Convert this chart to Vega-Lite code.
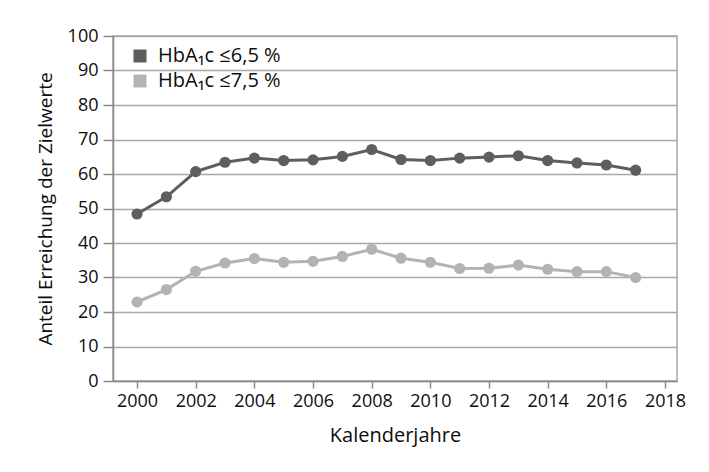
{
  "$schema": "https://vega.github.io/schema/vega-lite/v6.json",
  "width": 564,
  "height": 345,
  "autosize": {"type": "none"},
  "padding": {"left": 113, "top": 36, "right": 32, "bottom": 91},
  "background": "white",
  "config": {
    "font": "Open Sans",
    "view": {"stroke": "#a6a6a6", "strokeWidth": 1.5},
    "axis": {
      "labelFont": "Open Sans",
      "titleFont": "Open Sans",
      "labelFontSize": 18,
      "titleFontSize": 20,
      "titleFontWeight": "normal",
      "labelColor": "#0d0d0d",
      "titleColor": "#0d0d0d",
      "domainColor": "#8a8a8a",
      "domainWidth": 1.5,
      "tickColor": "#8a8a8a",
      "tickWidth": 1.5,
      "gridColor": "#a8a8a8",
      "gridWidth": 1.5
    }
  },
  "data": {
    "values": [
      {"Jahr": 2000, "Zielwert": "HbA₁c ≤6,5 %", "Anteil": 48.4},
      {"Jahr": 2001, "Zielwert": "HbA₁c ≤6,5 %", "Anteil": 53.4},
      {"Jahr": 2002, "Zielwert": "HbA₁c ≤6,5 %", "Anteil": 60.7},
      {"Jahr": 2003, "Zielwert": "HbA₁c ≤6,5 %", "Anteil": 63.4},
      {"Jahr": 2004, "Zielwert": "HbA₁c ≤6,5 %", "Anteil": 64.6},
      {"Jahr": 2005, "Zielwert": "HbA₁c ≤6,5 %", "Anteil": 63.9},
      {"Jahr": 2006, "Zielwert": "HbA₁c ≤6,5 %", "Anteil": 64.1},
      {"Jahr": 2007, "Zielwert": "HbA₁c ≤6,5 %", "Anteil": 65.1},
      {"Jahr": 2008, "Zielwert": "HbA₁c ≤6,5 %", "Anteil": 67.1},
      {"Jahr": 2009, "Zielwert": "HbA₁c ≤6,5 %", "Anteil": 64.2},
      {"Jahr": 2010, "Zielwert": "HbA₁c ≤6,5 %", "Anteil": 63.9},
      {"Jahr": 2011, "Zielwert": "HbA₁c ≤6,5 %", "Anteil": 64.6},
      {"Jahr": 2012, "Zielwert": "HbA₁c ≤6,5 %", "Anteil": 64.9},
      {"Jahr": 2013, "Zielwert": "HbA₁c ≤6,5 %", "Anteil": 65.3},
      {"Jahr": 2014, "Zielwert": "HbA₁c ≤6,5 %", "Anteil": 63.9},
      {"Jahr": 2015, "Zielwert": "HbA₁c ≤6,5 %", "Anteil": 63.2},
      {"Jahr": 2016, "Zielwert": "HbA₁c ≤6,5 %", "Anteil": 62.6},
      {"Jahr": 2017, "Zielwert": "HbA₁c ≤6,5 %", "Anteil": 61.1},
      {"Jahr": 2000, "Zielwert": "HbA₁c ≤7,5 %", "Anteil": 22.9},
      {"Jahr": 2001, "Zielwert": "HbA₁c ≤7,5 %", "Anteil": 26.5},
      {"Jahr": 2002, "Zielwert": "HbA₁c ≤7,5 %", "Anteil": 31.8},
      {"Jahr": 2003, "Zielwert": "HbA₁c ≤7,5 %", "Anteil": 34.2},
      {"Jahr": 2004, "Zielwert": "HbA₁c ≤7,5 %", "Anteil": 35.5},
      {"Jahr": 2005, "Zielwert": "HbA₁c ≤7,5 %", "Anteil": 34.4},
      {"Jahr": 2006, "Zielwert": "HbA₁c ≤7,5 %", "Anteil": 34.7},
      {"Jahr": 2007, "Zielwert": "HbA₁c ≤7,5 %", "Anteil": 36.1},
      {"Jahr": 2008, "Zielwert": "HbA₁c ≤7,5 %", "Anteil": 38.2},
      {"Jahr": 2009, "Zielwert": "HbA₁c ≤7,5 %", "Anteil": 35.6},
      {"Jahr": 2010, "Zielwert": "HbA₁c ≤7,5 %", "Anteil": 34.4},
      {"Jahr": 2011, "Zielwert": "HbA₁c ≤7,5 %", "Anteil": 32.6},
      {"Jahr": 2012, "Zielwert": "HbA₁c ≤7,5 %", "Anteil": 32.7},
      {"Jahr": 2013, "Zielwert": "HbA₁c ≤7,5 %", "Anteil": 33.6},
      {"Jahr": 2014, "Zielwert": "HbA₁c ≤7,5 %", "Anteil": 32.4},
      {"Jahr": 2015, "Zielwert": "HbA₁c ≤7,5 %", "Anteil": 31.7},
      {"Jahr": 2016, "Zielwert": "HbA₁c ≤7,5 %", "Anteil": 31.7},
      {"Jahr": 2017, "Zielwert": "HbA₁c ≤7,5 %", "Anteil": 30.0}
    ]
  },
  "encoding": {
    "x": {
      "field": "Jahr",
      "type": "quantitative",
      "scale": {"domain": [1999.18, 2018.41], "nice": false, "zero": false},
      "axis": {
        "title": "Kalenderjahre",
        "values": [2000, 2002, 2004, 2006, 2008, 2010, 2012, 2014, 2016, 2018],
        "format": "d",
        "grid": false,
        "tickSize": 7,
        "labelPadding": 4,
        "titlePadding": 15
      }
    },
    "y": {
      "field": "Anteil",
      "type": "quantitative",
      "scale": {"domain": [0, 100], "nice": false},
      "axis": {
        "title": "Anteil Erreichung der Zielwerte",
        "titleFontSize": 19,
        "values": [0, 10, 20, 30, 40, 50, 60, 70, 80, 90, 100],
        "grid": true,
        "tickSize": 10,
        "labelPadding": 5,
        "titlePadding": 12
      }
    },
    "color": {
      "field": "Zielwert",
      "type": "nominal",
      "scale": {"domain": ["HbA₁c ≤6,5 %", "HbA₁c ≤7,5 %"], "range": ["#5e5e5e", "#b3b3b3"]},
      "legend": {
        "title": null,
        "orient": "none",
        "legendX": 17,
        "legendY": 10,
        "padding": 0,
        "labelFont": "Open Sans",
        "labelFontSize": 20,
        "labelColor": "#0d0d0d",
        "symbolType": "square",
        "symbolSize": 169,
        "symbolStrokeWidth": 0,
        "symbolOpacity": 1,
        "labelOffset": 8,
        "rowPadding": 5,
        "encode": {
          "symbols": {
            "update": {
              "fill": {"scale": "color", "field": "value"},
              "stroke": {"value": "transparent"},
              "opacity": {"value": 1}
            }
          }
        }
      }
    }
  },
  "layer": [
    {
      "mark": {"type": "line", "strokeWidth": 3}
    },
    {
      "mark": {"type": "point", "filled": true, "size": 125, "opacity": 1}
    }
  ]
}
